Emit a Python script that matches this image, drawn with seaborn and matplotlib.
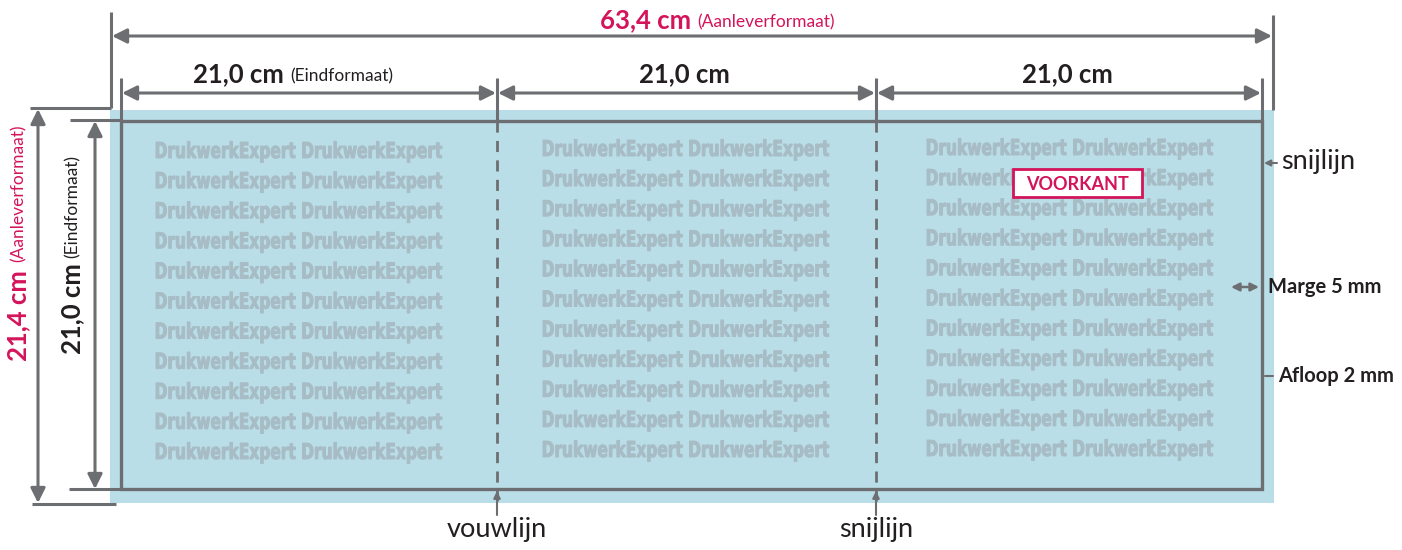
import matplotlib
matplotlib.use('Agg')
import matplotlib.pyplot as plt
import seaborn as sns
from matplotlib.patches import Rectangle, FancyArrowPatch, PathPatch
from matplotlib.textpath import TextPath
from matplotlib.font_manager import FontProperties
from matplotlib.transforms import Affine2D

# maten (cm) en teksten
total_label = '63,4 cm'
total_note = '(Aanleverformaat)'
panel_labels = ['21,0 cm', '21,0 cm', '21,0 cm']
panel_notes = ['(Eindformaat)', '', '']
height_bleed_label = '21,4 cm'
height_trim_label = '21,0 cm'
watermark = 'DrukwerkExpert DrukwerkExpert'
n_rows = 11
side_labels = ['snijlijn', 'Marge 5 mm', 'Afloop 2 mm']
bottom_labels = ['vouwlijn', 'snijlijn']
front_label = 'VOORKANT'

# layout in pixels
W, H = 1402, 550
bleed = (110, 110, 1274, 503)
trim = (121, 121, 1262, 489)
folds = [497, 876]
panel_edges = [trim[0]] + folds + [trim[2]]
wm_centers = [299, 686, 1070]
row_starts = [150, 148, 147]

PINK = '#d4145a'
GRAY = '#6d6e71'
BLUE = '#badee8'
WM = '#a7bcc5'
INK = '#231f20'
FONT = ['Lato', 'DejaVu Sans']

sns.set_theme(style='white')
plt.rcParams['font.family'] = FONT

fig = plt.figure(figsize=(W / 100, H / 100), dpi=100)
ax = fig.add_axes([0, 0, 1, 1])
ax.set_xlim(0, W)
ax.set_ylim(H, 0)
ax.axis('off')


def line(x, y, lw=2.2, **kw):
    ax.plot(x, y, color=GRAY, lw=lw, solid_capstyle='butt', **kw)


def dim_arrow(p1, p2, style='<|-|>', scale=22, lw=2.2):
    a = FancyArrowPatch(p1, p2, arrowstyle=style, mutation_scale=scale,
                        color=GRAY, lw=lw, shrinkA=0, shrinkB=0)
    ax.add_patch(a)


# afloop (blauw)
ax.add_patch(Rectangle((bleed[0], bleed[1]), bleed[2] - bleed[0], bleed[3] - bleed[1],
                       facecolor=BLUE, edgecolor='none', zorder=0))

# watermerk tekst (smal gemaakt, zoals een condensed letter)
wm_path = TextPath((0, 0), watermark, size=1,
                   prop=FontProperties(family='DejaVu Sans', weight='bold'))
ext = wm_path.get_extents()
wm_w, wm_h = 286, 16 / 0.73
for i in range(3):
    cx = wm_centers[i]
    for r in range(n_rows):
        y = row_starts[i] + r * 30.1
        tr = (Affine2D().translate(-ext.x0, 0).scale(wm_w / ext.width, -wm_h)
              .translate(cx - wm_w / 2, y + 8) + ax.transData)
        ax.add_patch(PathPatch(wm_path, transform=tr, facecolor=WM, edgecolor=WM,
                               lw=0.7, zorder=1))

# snijlijn kader
ax.add_patch(Rectangle((trim[0], trim[1]), trim[2] - trim[0], trim[3] - trim[1],
                       facecolor='none', edgecolor=GRAY, lw=2.4, zorder=3))

# vouw/snij lijnen (gestippeld)
for fx in folds:
    line([fx, fx], [trim[1], trim[3] + 12], lw=2, ls=(0, (4, 3)), zorder=3)
    dim_arrow((fx, 515), (fx, trim[3] + 2), style='-|>', scale=10, lw=1.5)
for fx, lab in zip(folds, bottom_labels):
    ax.text(fx, 530, lab, fontsize=19.5, ha='center', va='center', color=INK)

# totale breedte
line([111, 111], [12, 108])
line([111, 30], [108, 108])
line([1273, 1273], [15, 110])
dim_arrow((112, 36), (1272, 36))
ax.text(691, 20, total_label, color=PINK, fontsize=18.5, fontweight='bold', ha='right', va='center')
ax.text(697, 22, total_note, color=PINK, fontsize=12.5, ha='left', va='center')

# panelen breedte
for x in panel_edges:
    line([x, x], [78, trim[1]])
for i in range(3):
    x0, x1 = panel_edges[i], panel_edges[i + 1]
    dim_arrow((x0 + 1, 93), (x1 - 1, 93))
    if panel_notes[i]:
        ax.text(284, 74, panel_labels[i], fontsize=18.5, fontweight='bold', ha='right', va='center',
                color=INK)
        ax.text(290, 76, panel_notes[i], fontsize=12.5, ha='left', va='center', color=INK)
    else:
        ax.text((x0 + x1) / 2 - 2, 74, panel_labels[i], fontsize=18.5, fontweight='bold',
                ha='center', va='center', color=INK)

# hoogte links
line([32, 116], [504, 504])
dim_arrow((38, 109), (38, 503))
line([70, trim[0]], [120, 120])
line([69, trim[0]], [trim[3], trim[3]])
dim_arrow((95, 121), (95, 489))
ax.text(18, 361, height_bleed_label, color=PINK, fontsize=18.5, fontweight='bold', rotation=90,
        ha='center', va='bottom')
ax.text(19, 262, total_note, color=PINK, fontsize=12.5, rotation=90, ha='center', va='bottom')
ax.text(72, 354, height_trim_label, color=INK, fontsize=18.5, fontweight='bold', rotation=90,
        ha='center', va='bottom')
ax.text(73, 258, panel_notes[0], color=INK, fontsize=12.5, rotation=90, ha='center', va='bottom')

# rechter labels
dim_arrow((1277, 163), (1264, 163), style='-|>', scale=9, lw=1.5)
ax.text(1281, 162, side_labels[0], fontsize=19.5, ha='left', va='center', color=INK)
dim_arrow((1231, 287), (1259, 287), style='<|-|>', scale=12, lw=1.8)
ax.text(1268, 287, side_labels[1], fontsize=14.5, fontweight='bold', ha='left', va='center',
        color=INK)
dim_arrow((1273, 376), (1265, 376), style='-', scale=8, lw=1.5)
ax.text(1278, 376, side_labels[2], fontsize=14.5, fontweight='bold', ha='left', va='center',
        color=INK)

# voorkant label
ax.add_patch(Rectangle((1013, 169), 129, 28, facecolor='white', edgecolor=PINK, lw=2, zorder=4))
ax.text(1077.5, 184, front_label, color=PINK, fontsize=13, fontweight='bold', ha='center',
        va='center', zorder=5)

fig.savefig('out.png', dpi=100)
